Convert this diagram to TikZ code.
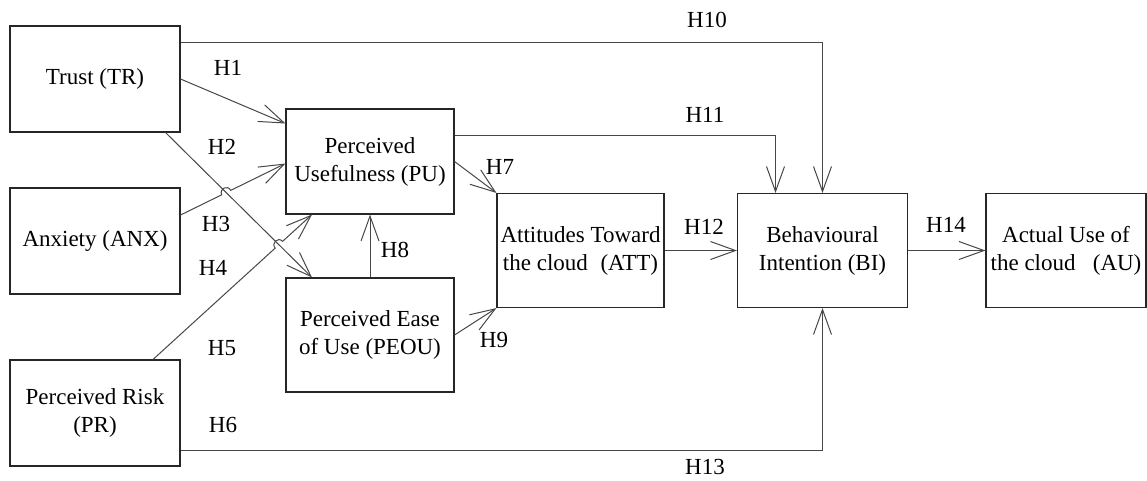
\documentclass[tikz,border=0pt]{standalone}
\usepackage{fontspec}
\setmainfont{Liberation Serif}
\usepackage{tikz}
\usetikzlibrary{arrows.meta,calc,intersections}

\tikzset{
  box/.style={draw=black!85,line width=1.1pt,align=center,inner sep=0pt,
    minimum width=170pt,minimum height=106pt},
  link/.style={draw=black!72,line width=1pt,-{Straight Barb[length=25pt,width=18pt]}},
  hlabel/.style={inner sep=0pt},
}
\newcommand{\hoplink}[4]{% from, to, crossing point, path name of the other line
  \draw[link] (#1) -- ($(#3)!5pt!(#1)$)
    .. controls ($($(#3)!5pt!(#1)$)!6.7pt!90:(#2)$) and ($($(#3)!5pt!(#2)$)!6.7pt!-90:(#1)$) ..
    ($(#3)!5pt!(#2)$) -- (#2);}

\begin{document}
\begin{tikzpicture}[x=1pt,y=1pt,font=\fontsize{23}{28}\selectfont]
	\useasboundingbox (0,0) rectangle (1147,-480);

	\node[box] (tr) at (95,-79) {Trust (TR)};
	\node[box] (anx) at (95,-241) {Anxiety (ANX)};
	\node[box] (pr) at (95,-413) {Perceived Risk\\(PR)};
	\node[box,minimum width=168pt,minimum height=105pt] (pu) at (370,-161.5) {Perceived\\Usefulness (PU)};
	\node[box,minimum width=168pt,minimum height=114pt] (peou) at (370,-335) {Perceived Ease\\of Use (PEOU)};
	\node[box,minimum width=167pt,minimum height=114pt] (att) at (580.5,-250.5) {Attitudes Toward\\the cloud\hspace{0.55em}(ATT)};
	\node[box,minimum width=170pt,minimum height=114pt] (bi) at (822.5,-250.5) {Behavioural\\Intention (BI)};
	\node[box,minimum width=160pt,minimum height=114pt] (au) at (1066,-250.5) {Actual Use of\\the cloud\hspace{0.75em}(AU)};

	\coordinate (tra) at ([xshift=-15pt]tr.south east);
	\coordinate (peoua) at ([xshift=-58pt]peou.north);
	\coordinate (anxa) at ([yshift=26pt]anx.east);
	\coordinate (anxb) at ([yshift=-41pt]anx.east);
	\coordinate (pua) at ([yshift=-2pt]pu.west);
	\coordinate (pra) at ([xshift=58pt]pr.north);
	\coordinate (pub) at ([xshift=-58pt]pu.south);

	\path[name path=trpeou] (tra) -- (peoua);
	\path[name path=anxpu] (anxa) -- (pua);
	\path[name path=anxpeou] (anxb) -- (peou.west);
	\path[name path=prpu] (pra) -- (pub);
	\path[name intersections={of=trpeou and anxpu,by=xa}];
	\path[name intersections={of=prpu and anxpeou,by=xb}];
	\path[name intersections={of=trpeou and prpu,by=xc}];

	\draw[link] ([yshift=37pt]tr.east) -| (bi.north);
	\draw[link] (tr.east) -- ([yshift=38pt]pu.west);
	\draw[link] (tra) -- (peoua);
	\hoplink{anxa}{pua}{xa}
	\hoplink{anxb}{peou.west}{xb}
	\hoplink{pra}{pub}{xc}
	\draw[link] (pr.east) -- ([yshift=-22pt]peou.west);
	\draw[link] ([yshift=-37pt]pr.east) -| (bi.south);
	\draw[link] (peou.north) -- (pu.south);
	\draw[link] ([yshift=26pt]pu.east) -| ([xshift=-47pt]bi.north);
	\draw[link] (pu.east) -- (att.north west);
	\draw[link] (peou.east) -- (att.south west);
	\draw[link] (att.east) -- (bi.west);
	\draw[link] (bi.east) -- (au.west);

	\node[hlabel] (h10) at (707,-20) {H10};
	\node[hlabel] (h1) at (228,-68) {H1};
	\node[hlabel] (h11) at (705,-115) {H11};
	\node[hlabel] (h2) at (222,-147) {H2};
	\node[hlabel] (h7) at (500,-167) {H7};
	\node[hlabel] (h3) at (216,-224) {H3};
	\node[hlabel] (h12) at (704,-227) {H12};
	\node[hlabel] (h14) at (946,-225) {H14};
	\node[hlabel] (h8) at (395,-250) {H8};
	\node[hlabel] (h4) at (213,-268) {H4};
	\node[hlabel] (h9) at (494,-340) {H9};
	\node[hlabel] (h5) at (222,-348) {H5};
	\node[hlabel] (h6) at (223,-425) {H6};
	\node[hlabel] (h13) at (705,-467) {H13};
\end{tikzpicture}
\end{document}
